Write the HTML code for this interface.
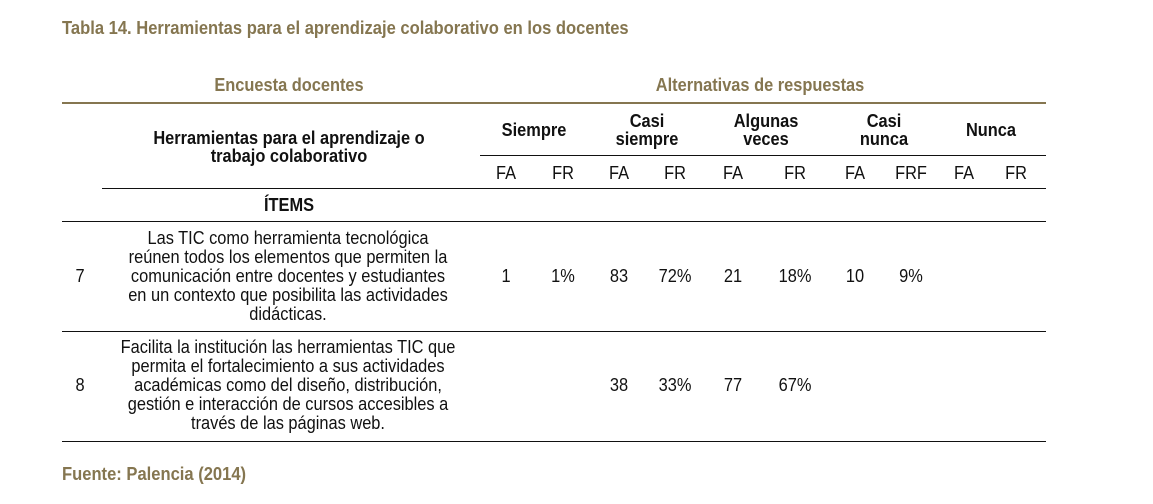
<!DOCTYPE html>
<html><head><meta charset="utf-8"><style>
body{margin:0;width:1153px;height:504px;background:#fff;position:relative;overflow:hidden;font-family:"Liberation Sans",sans-serif;color:#111}
.a{position:absolute;white-space:nowrap}
.l{transform:scaleX(0.92);transform-origin:0 0}
.c{transform:translateX(-50%) scaleX(0.91);text-align:center}
.g{color:#857650;font-weight:bold}
.b{font-weight:bold}
.ln{position:absolute;height:1px;background:#111}
.t{font-size:18px;line-height:19px}
.h{font-size:18px;line-height:18px}
</style></head><body>
<div class="a g l" style="left:62px;top:18px;font-size:18px">Tabla 14. Herramientas para el aprendizaje colaborativo en los docentes</div>
<div class="a c g" style="left:289px;top:75px;font-size:18px">Encuesta docentes</div>
<div class="a c g" style="left:760px;top:75px;font-size:18px">Alternativas de respuestas</div>
<div class="ln" style="left:62px;top:102px;width:984px;height:2px;background:#857650"></div>
<div class="a c b h" style="left:289px;top:129px">Herramientas para el aprendizaje o<br>trabajo colaborativo</div>
<div class="a c b h" style="left:534px;top:121px">Siempre</div>
<div class="a c b h" style="left:647px;top:112px">Casi<br>siempre</div>
<div class="a c b h" style="left:766px;top:112px">Algunas<br>veces</div>
<div class="a c b h" style="left:884px;top:112px">Casi<br>nunca</div>
<div class="a c b h" style="left:991px;top:121px">Nunca</div>
<div class="ln" style="left:480px;top:155px;width:566px"></div>
<div>
<div class="a c t" style="left:506px;top:164px">FA</div><div class="a c t" style="left:563px;top:164px">FR</div>
<div class="a c t" style="left:619px;top:164px">FA</div><div class="a c t" style="left:675px;top:164px">FR</div>
<div class="a c t" style="left:733px;top:164px">FA</div><div class="a c t" style="left:795px;top:164px">FR</div>
<div class="a c t" style="left:855px;top:164px">FA</div><div class="a c t" style="left:911px;top:164px">FRF</div>
<div class="a c t" style="left:964px;top:164px">FA</div><div class="a c t" style="left:1016px;top:164px">FR</div>
</div>
<div class="ln" style="left:102px;top:188px;width:944px"></div>
<div class="a c b h" style="left:289px;top:196px">ÍTEMS</div>
<div class="ln" style="left:62px;top:221px;width:984px"></div>
<div>
<div class="a c t" style="left:80px;top:267px">7</div>
<div class="a c t" style="left:288px;top:229px">Las TIC como herramienta tecnológica<br>reúnen todos los elementos que permiten la<br>comunicación entre docentes y estudiantes<br>en un contexto que posibilita las actividades<br>didácticas.</div>
<div class="a c t" style="left:506px;top:267px">1</div><div class="a c t" style="left:563px;top:267px">1%</div>
<div class="a c t" style="left:619px;top:267px">83</div><div class="a c t" style="left:675px;top:267px">72%</div>
<div class="a c t" style="left:733px;top:267px">21</div><div class="a c t" style="left:795px;top:267px">18%</div>
<div class="a c t" style="left:855px;top:267px">10</div><div class="a c t" style="left:911px;top:267px">9%</div>
</div>
<div class="ln" style="left:62px;top:331px;width:984px"></div>
<div>
<div class="a c t" style="left:80px;top:376px">8</div>
<div class="a c t" style="left:288px;top:338px">Facilita la institución las herramientas TIC que<br>permita el fortalecimiento a sus actividades<br>académicas como del diseño, distribución,<br>gestión e interacción de cursos accesibles a<br>través de las páginas web.</div>
<div class="a c t" style="left:619px;top:376px">38</div><div class="a c t" style="left:675px;top:376px">33%</div>
<div class="a c t" style="left:733px;top:376px">77</div><div class="a c t" style="left:795px;top:376px">67%</div>
</div>
<div class="ln" style="left:62px;top:441px;width:984px"></div>
<div class="a g l" style="left:62px;top:464px;font-size:18px">Fuente: Palencia (2014)</div>
</body></html>
